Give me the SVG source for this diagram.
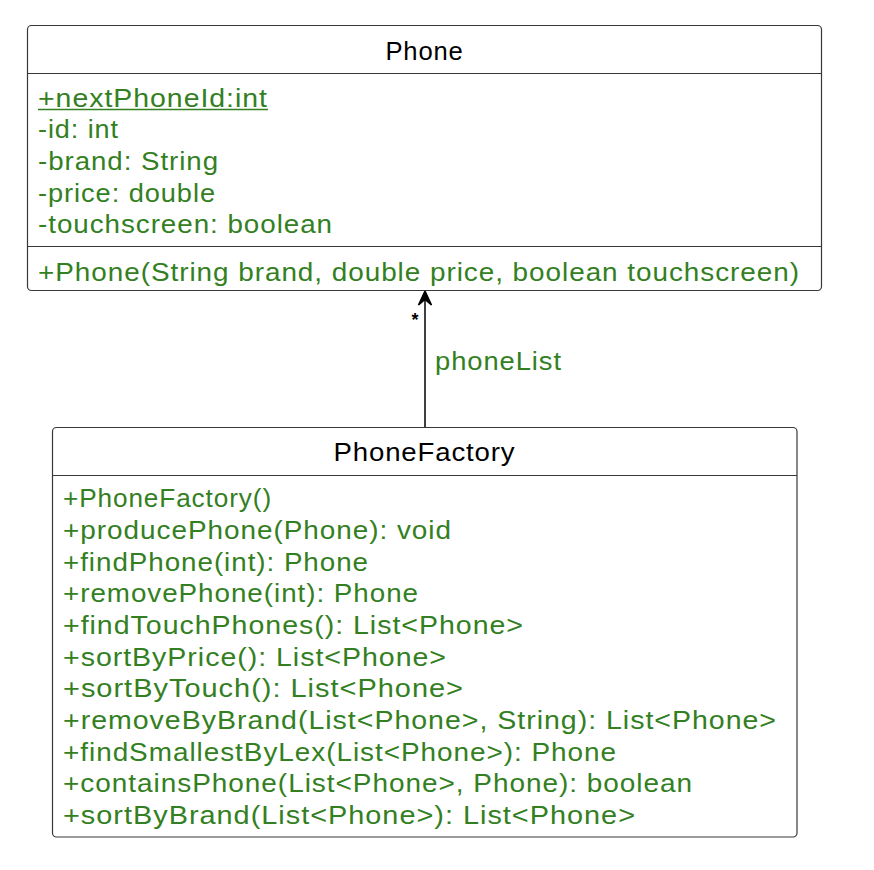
<svg xmlns="http://www.w3.org/2000/svg" width="874" height="870" viewBox="0 0 874 870">
<style>
.box{fill:#fff;stroke:#383838;stroke-width:1.2}
.div{stroke:#383838;stroke-width:1.2}
.hdr{font-family:"Liberation Sans",Arial,sans-serif;font-size:26px;letter-spacing:0.8px;fill:#000;text-anchor:middle}
.mem{font-family:"Liberation Sans",Arial,sans-serif;font-size:26px;letter-spacing:0.9px;fill:#338022}
.conn{stroke:#000;stroke-width:1.5;fill:none}
.head{stroke:#000;stroke-width:1.5;fill:#000;stroke-linejoin:miter}
.mult{font-family:"Liberation Sans",Arial,sans-serif;font-size:18px;font-weight:bold;fill:#000;text-anchor:middle}
</style>
<rect width="874" height="870" fill="#fff"/>
<g id="connectors">
<line class="conn" x1="425" y1="427" x2="425" y2="298"/>
<polygon class="head" points="425,291 418.5,305 425,299.5 431.5,305"/>
<text class="mult" x="415" y="326">*</text>
<text class="mem" x="435" y="370" textLength="127" lengthAdjust="spacingAndGlyphs">phoneList</text>
</g>
<g id="Phone">
<rect class="box" x="27.5" y="25.5" width="794" height="265" rx="4"/>
<text class="hdr" x="424.5" y="60" textLength="78" lengthAdjust="spacingAndGlyphs">Phone</text>
<line class="div" x1="27.5" y1="73.5" x2="821.5" y2="73.5"/>
<text class="mem" x="38" y="106.5" textLength="230" lengthAdjust="spacingAndGlyphs">+nextPhoneId:int</text>
<line x1="38" y1="109.5" x2="268" y2="109.5" stroke="#338022" stroke-width="1.3"/>
<text class="mem" x="38" y="138.3" textLength="81" lengthAdjust="spacingAndGlyphs">-id: int</text>
<text class="mem" x="38" y="170" textLength="181" lengthAdjust="spacingAndGlyphs">-brand: String</text>
<text class="mem" x="38" y="201.7" textLength="178" lengthAdjust="spacingAndGlyphs">-price: double</text>
<text class="mem" x="38" y="233.3" textLength="295" lengthAdjust="spacingAndGlyphs">-touchscreen: boolean</text>
<line class="div" x1="27.5" y1="246.5" x2="821.5" y2="246.5"/>
<text class="mem" x="38" y="281" textLength="762" lengthAdjust="spacingAndGlyphs">+Phone(String brand, double price, boolean touchscreen)</text>
</g>
<g id="PhoneFactory">
<rect class="box" x="52.5" y="427.5" width="744.5" height="409.5" rx="4"/>
<text class="hdr" x="424.5" y="460.5" textLength="182" lengthAdjust="spacingAndGlyphs">PhoneFactory</text>
<line class="div" x1="52.5" y1="475.5" x2="797" y2="475.5"/>
<text class="mem" x="63" y="507.3" textLength="209" lengthAdjust="spacingAndGlyphs">+PhoneFactory()</text>
<text class="mem" x="63" y="539" textLength="389" lengthAdjust="spacingAndGlyphs">+producePhone(Phone): void</text>
<text class="mem" x="63" y="570.6" textLength="306" lengthAdjust="spacingAndGlyphs">+findPhone(int): Phone</text>
<text class="mem" x="63" y="602.3" textLength="356" lengthAdjust="spacingAndGlyphs">+removePhone(int): Phone</text>
<text class="mem" x="63" y="634" textLength="461" lengthAdjust="spacingAndGlyphs">+findTouchPhones(): List&lt;Phone&gt;</text>
<text class="mem" x="63" y="665.6" textLength="384" lengthAdjust="spacingAndGlyphs">+sortByPrice(): List&lt;Phone&gt;</text>
<text class="mem" x="63" y="697.3" textLength="401" lengthAdjust="spacingAndGlyphs">+sortByTouch(): List&lt;Phone&gt;</text>
<text class="mem" x="63" y="729" textLength="714" lengthAdjust="spacingAndGlyphs">+removeByBrand(List&lt;Phone&gt;, String): List&lt;Phone&gt;</text>
<text class="mem" x="63" y="760.6" textLength="554" lengthAdjust="spacingAndGlyphs">+findSmallestByLex(List&lt;Phone&gt;): Phone</text>
<text class="mem" x="63" y="792.3" textLength="630" lengthAdjust="spacingAndGlyphs">+containsPhone(List&lt;Phone&gt;, Phone): boolean</text>
<text class="mem" x="63" y="824" textLength="573" lengthAdjust="spacingAndGlyphs">+sortByBrand(List&lt;Phone&gt;): List&lt;Phone&gt;</text>
</g>
</svg>
